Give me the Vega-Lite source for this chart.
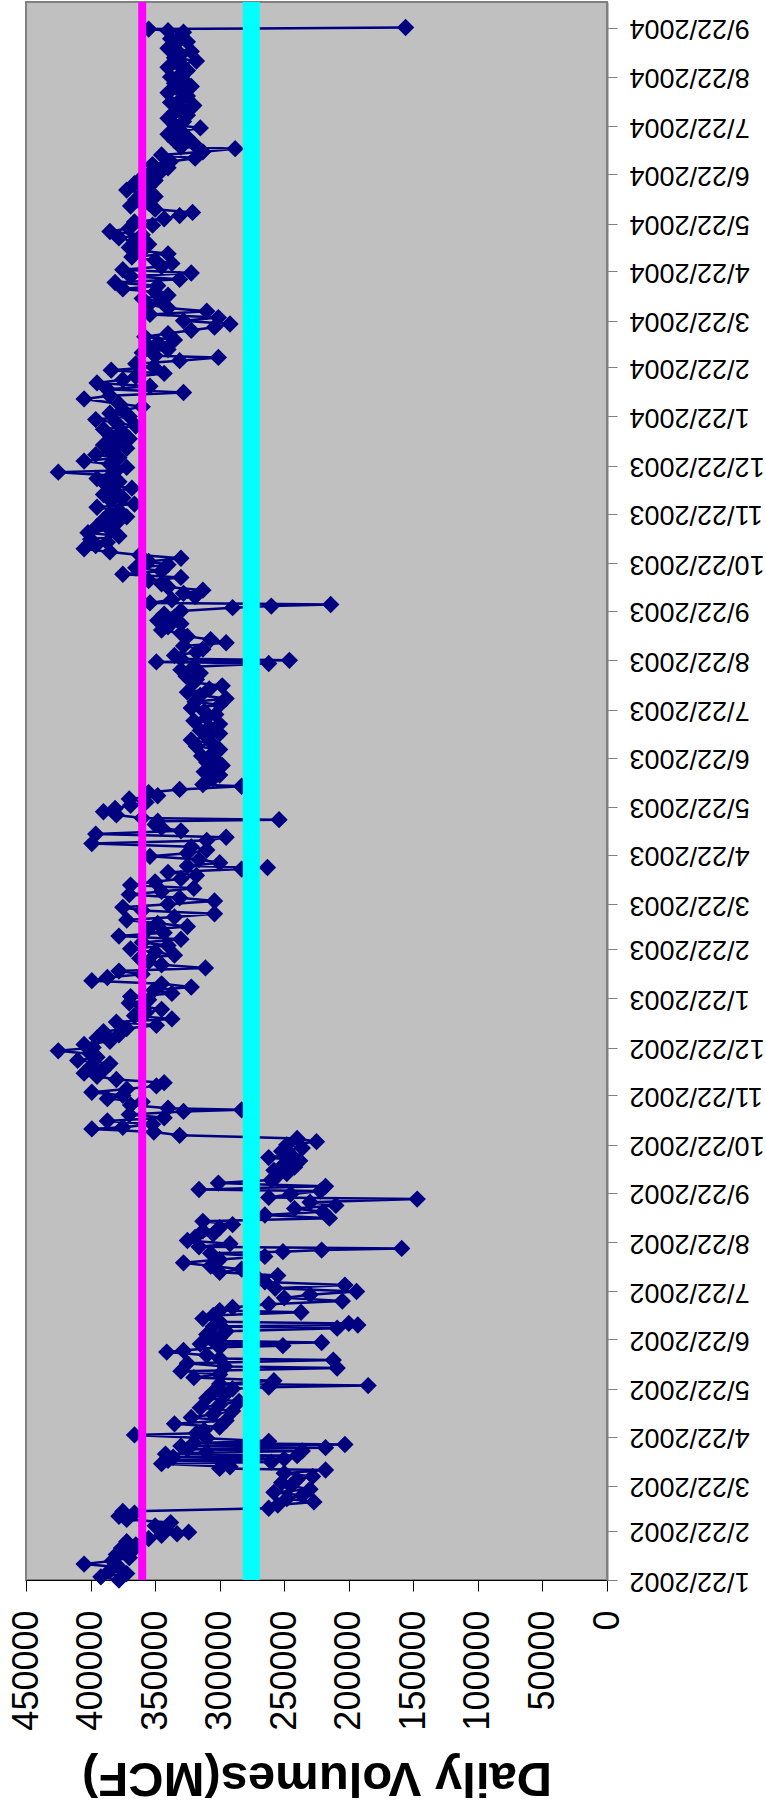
{
  "$schema": "https://vega.github.io/schema/vega-lite/v6.json",
  "width": 581,
  "height": 1578,
  "autosize": "none",
  "padding": {"left": 26, "top": 2, "right": 159, "bottom": 233},
  "background": "white",
  "config": {
    "view": {"fill": "#C0C0C0", "stroke": "#808080", "strokeWidth": 2},
    "axis": {"labelFont": "Liberation Sans", "titleFont": "Liberation Sans", "labelColor": "#000000", "titleColor": "#000000", "grid": false}
  },
  "layer": [
    {
      "data": {"values": [
        {"d":"2002-01-22","v":378000},{"d":"2002-01-24","v":392000},{"d":"2002-01-26","v":372000},{"d":"2002-01-28","v":385000},{"d":"2002-01-30","v":378000},
        {"d":"2002-02-01","v":405000},{"d":"2002-02-03","v":383000},{"d":"2002-02-05","v":370000},{"d":"2002-02-07","v":380000},{"d":"2002-02-09","v":368000},
        {"d":"2002-02-11","v":376000},{"d":"2002-02-13","v":365000},{"d":"2002-02-15","v":372000},{"d":"2002-02-17","v":355000},{"d":"2002-02-19","v":345000},
        {"d":"2002-02-20","v":333000},{"d":"2002-02-21","v":324000},{"d":"2002-02-23","v":342000},{"d":"2002-02-25","v":350000},{"d":"2002-02-27","v":338000},
        {"d":"2002-03-01","v":372000},{"d":"2002-03-03","v":378000},{"d":"2002-03-05","v":366000},{"d":"2002-03-06","v":375000},{"d":"2002-03-08","v":262000},
        {"d":"2002-03-10","v":255000},{"d":"2002-03-12","v":227000},{"d":"2002-03-14","v":248000},{"d":"2002-03-16","v":236000},{"d":"2002-03-18","v":258000},
        {"d":"2002-03-20","v":230000},{"d":"2002-03-22","v":245000},{"d":"2002-03-24","v":252000},{"d":"2002-03-26","v":240000},{"d":"2002-03-28","v":228000},
        {"d":"2002-03-30","v":250000},{"d":"2002-04-01","v":218000},{"d":"2002-04-02","v":300000},{"d":"2002-04-03","v":292000},{"d":"2002-04-05","v":345000},
        {"d":"2002-04-06","v":260000},{"d":"2002-04-07","v":340000},{"d":"2002-04-08","v":250000},{"d":"2002-04-09","v":336000},{"d":"2002-04-10","v":240000},
        {"d":"2002-04-11","v":342000},{"d":"2002-04-12","v":310000},{"d":"2002-04-13","v":236000},{"d":"2002-04-14","v":325000},{"d":"2002-04-15","v":218000},
        {"d":"2002-04-16","v":330000},{"d":"2002-04-17","v":203000},{"d":"2002-04-18","v":320000},{"d":"2002-04-19","v":262000},{"d":"2002-04-21","v":310000},
        {"d":"2002-04-23","v":366000},{"d":"2002-04-24","v":318000},{"d":"2002-04-26","v":312000},{"d":"2002-04-28","v":300000},{"d":"2002-04-30","v":335000},
        {"d":"2002-05-02","v":295000},{"d":"2002-05-04","v":322000},{"d":"2002-05-06","v":305000},{"d":"2002-05-08","v":290000},{"d":"2002-05-10","v":315000},
        {"d":"2002-05-12","v":300000},{"d":"2002-05-14","v":285000},{"d":"2002-05-16","v":310000},{"d":"2002-05-18","v":296000},{"d":"2002-05-20","v":305000},
        {"d":"2002-05-22","v":290000},{"d":"2002-05-23","v":262000},{"d":"2002-05-24","v":185000},{"d":"2002-05-25","v":300000},{"d":"2002-05-27","v":258000},
        {"d":"2002-05-29","v":320000},{"d":"2002-05-31","v":300000},{"d":"2002-06-02","v":330000},{"d":"2002-06-04","v":209000},{"d":"2002-06-05","v":296000},
        {"d":"2002-06-07","v":325000},{"d":"2002-06-09","v":212000},{"d":"2002-06-10","v":300000},{"d":"2002-06-12","v":310000},{"d":"2002-06-14","v":341000},
        {"d":"2002-06-15","v":328000},{"d":"2002-06-17","v":300000},{"d":"2002-06-18","v":251000},{"d":"2002-06-19","v":315000},{"d":"2002-06-20","v":221000},
        {"d":"2002-06-21","v":305000},{"d":"2002-06-23","v":300000},{"d":"2002-06-25","v":310000},{"d":"2002-06-27","v":295000},{"d":"2002-06-29","v":209000},
        {"d":"2002-06-30","v":305000},{"d":"2002-07-01","v":193000},{"d":"2002-07-02","v":200000},{"d":"2002-07-03","v":300000},{"d":"2002-07-05","v":313000},
        {"d":"2002-07-07","v":305000},{"d":"2002-07-09","v":237000},{"d":"2002-07-10","v":300000},{"d":"2002-07-12","v":290000},{"d":"2002-07-14","v":262000},
        {"d":"2002-07-16","v":205000},{"d":"2002-07-18","v":250000},{"d":"2002-07-20","v":230000},{"d":"2002-07-22","v":194000},{"d":"2002-07-24","v":257000},
        {"d":"2002-07-26","v":203000},{"d":"2002-07-28","v":265000},{"d":"2002-07-30","v":270000},{"d":"2002-08-01","v":255000},{"d":"2002-08-03","v":300000},
        {"d":"2002-08-05","v":283000},{"d":"2002-08-07","v":307000},{"d":"2002-08-09","v":328000},{"d":"2002-08-11","v":300000},{"d":"2002-08-13","v":265000},
        {"d":"2002-08-15","v":307000},{"d":"2002-08-16","v":251000},{"d":"2002-08-17","v":221000},{"d":"2002-08-18","v":159000},{"d":"2002-08-19","v":316000},
        {"d":"2002-08-21","v":292000},{"d":"2002-08-23","v":325000},{"d":"2002-08-25","v":319000},{"d":"2002-08-27","v":305000},{"d":"2002-08-29","v":313000},
        {"d":"2002-08-31","v":300000},{"d":"2002-09-02","v":290000},{"d":"2002-09-04","v":313000},{"d":"2002-09-06","v":215000},{"d":"2002-09-08","v":265000},
        {"d":"2002-09-10","v":220000},{"d":"2002-09-12","v":242000},{"d":"2002-09-14","v":210000},{"d":"2002-09-16","v":230000},{"d":"2002-09-18","v":147000},
        {"d":"2002-09-19","v":262000},{"d":"2002-09-21","v":245000},{"d":"2002-09-23","v":222000},{"d":"2002-09-24","v":316000},{"d":"2002-09-26","v":218000},
        {"d":"2002-09-28","v":301000},{"d":"2002-09-30","v":260000},{"d":"2002-10-02","v":256000},{"d":"2002-10-04","v":248000},{"d":"2002-10-06","v":258000},
        {"d":"2002-10-08","v":242000},{"d":"2002-10-10","v":250000},{"d":"2002-10-12","v":238000},{"d":"2002-10-14","v":262000},{"d":"2002-10-16","v":245000},
        {"d":"2002-10-18","v":252000},{"d":"2002-10-20","v":236000},{"d":"2002-10-22","v":248000},{"d":"2002-10-24","v":225000},{"d":"2002-10-26","v":240000},
        {"d":"2002-10-28","v":331000},{"d":"2002-10-30","v":351000},{"d":"2002-11-01","v":399000},{"d":"2002-11-02","v":375000},{"d":"2002-11-04","v":352000},
        {"d":"2002-11-06","v":387000},{"d":"2002-11-08","v":343000},{"d":"2002-11-10","v":370000},{"d":"2002-11-12","v":328000},{"d":"2002-11-13","v":283000},
        {"d":"2002-11-14","v":340000},{"d":"2002-11-16","v":369000},{"d":"2002-11-18","v":360000},{"d":"2002-11-20","v":387000},{"d":"2002-11-22","v":375000},
        {"d":"2002-11-24","v":399000},{"d":"2002-11-26","v":372000},{"d":"2002-11-28","v":349000},{"d":"2002-11-30","v":343000},{"d":"2002-12-02","v":380000},
        {"d":"2002-12-04","v":395000},{"d":"2002-12-06","v":405000},{"d":"2002-12-08","v":390000},{"d":"2002-12-10","v":400000},{"d":"2002-12-12","v":385000},
        {"d":"2002-12-14","v":410000},{"d":"2002-12-16","v":395000},{"d":"2002-12-18","v":400000},{"d":"2002-12-20","v":425000},{"d":"2002-12-22","v":398000},
        {"d":"2002-12-24","v":405000},{"d":"2002-12-26","v":385000},{"d":"2002-12-28","v":395000},{"d":"2002-12-30","v":378000},
        {"d":"2003-01-01","v":390000},{"d":"2003-01-03","v":372000},{"d":"2003-01-05","v":349000},{"d":"2003-01-07","v":380000},{"d":"2003-01-09","v":337000},
        {"d":"2003-01-11","v":366000},{"d":"2003-01-13","v":357000},{"d":"2003-01-15","v":345000},{"d":"2003-01-17","v":360000},{"d":"2003-01-19","v":370000},
        {"d":"2003-01-21","v":355000},{"d":"2003-01-23","v":369000},{"d":"2003-01-25","v":337000},{"d":"2003-01-27","v":351000},{"d":"2003-01-29","v":322000},
        {"d":"2003-01-31","v":345000},{"d":"2003-02-02","v":399000},{"d":"2003-02-04","v":387000},{"d":"2003-02-06","v":360000},{"d":"2003-02-08","v":378000},
        {"d":"2003-02-10","v":311000},{"d":"2003-02-12","v":345000},{"d":"2003-02-14","v":355000},{"d":"2003-02-16","v":362000},{"d":"2003-02-18","v":335000},
        {"d":"2003-02-20","v":350000},{"d":"2003-02-22","v":369000},{"d":"2003-02-24","v":340000},{"d":"2003-02-26","v":360000},{"d":"2003-02-28","v":330000},
        {"d":"2003-03-02","v":378000},{"d":"2003-03-04","v":343000},{"d":"2003-03-06","v":356000},{"d":"2003-03-08","v":325000},{"d":"2003-03-10","v":348000},
        {"d":"2003-03-12","v":372000},{"d":"2003-03-14","v":335000},{"d":"2003-03-16","v":304000},{"d":"2003-03-18","v":360000},{"d":"2003-03-20","v":375000},
        {"d":"2003-03-22","v":340000},{"d":"2003-03-24","v":304000},{"d":"2003-03-26","v":331000},{"d":"2003-03-28","v":370000},{"d":"2003-03-30","v":345000},
        {"d":"2003-04-01","v":320000},{"d":"2003-04-03","v":369000},{"d":"2003-04-05","v":350000},{"d":"2003-04-07","v":330000},{"d":"2003-04-09","v":318000},
        {"d":"2003-04-11","v":340000},{"d":"2003-04-13","v":283000},{"d":"2003-04-14","v":263000},{"d":"2003-04-15","v":325000},{"d":"2003-04-17","v":300000},
        {"d":"2003-04-19","v":316000},{"d":"2003-04-21","v":354000},{"d":"2003-04-23","v":325000},{"d":"2003-04-25","v":310000},{"d":"2003-04-27","v":322000},
        {"d":"2003-04-29","v":399000},{"d":"2003-05-01","v":310000},{"d":"2003-05-03","v":295000},{"d":"2003-05-05","v":396000},{"d":"2003-05-07","v":330000},
        {"d":"2003-05-09","v":345000},{"d":"2003-05-11","v":350000},{"d":"2003-05-13","v":348000},{"d":"2003-05-14","v":254000},{"d":"2003-05-15","v":360000},
        {"d":"2003-05-17","v":380000},{"d":"2003-05-19","v":390000},{"d":"2003-05-21","v":381000},{"d":"2003-05-23","v":369000},{"d":"2003-05-25","v":357000},
        {"d":"2003-05-27","v":370000},{"d":"2003-05-29","v":348000},{"d":"2003-05-31","v":355000},{"d":"2003-06-02","v":331000},{"d":"2003-06-04","v":283000},
        {"d":"2003-06-05","v":313000},{"d":"2003-06-07","v":310000},{"d":"2003-06-09","v":305000},{"d":"2003-06-11","v":300000},{"d":"2003-06-13","v":312000},
        {"d":"2003-06-15","v":305000},{"d":"2003-06-17","v":298000},{"d":"2003-06-19","v":310000},{"d":"2003-06-21","v":304000},{"d":"2003-06-23","v":314000},
        {"d":"2003-06-25","v":305000},{"d":"2003-06-27","v":300000},{"d":"2003-06-29","v":318000},{"d":"2003-07-01","v":306000},{"d":"2003-07-03","v":322000},
        {"d":"2003-07-05","v":310000},{"d":"2003-07-07","v":300000},{"d":"2003-07-09","v":315000},{"d":"2003-07-11","v":308000},{"d":"2003-07-13","v":300000},
        {"d":"2003-07-15","v":320000},{"d":"2003-07-17","v":310000},{"d":"2003-07-19","v":303000},{"d":"2003-07-21","v":312000},{"d":"2003-07-23","v":322000},
        {"d":"2003-07-25","v":300000},{"d":"2003-07-27","v":319000},{"d":"2003-07-29","v":295000},{"d":"2003-07-31","v":315000},{"d":"2003-08-02","v":325000},
        {"d":"2003-08-04","v":308000},{"d":"2003-08-06","v":298000},{"d":"2003-08-08","v":320000},{"d":"2003-08-10","v":318000},{"d":"2003-08-12","v":326000},
        {"d":"2003-08-14","v":315000},{"d":"2003-08-16","v":330000},{"d":"2003-08-18","v":320000},{"d":"2003-08-20","v":262000},{"d":"2003-08-21","v":349000},
        {"d":"2003-08-22","v":246000},{"d":"2003-08-23","v":330000},{"d":"2003-08-25","v":335000},{"d":"2003-08-27","v":318000},{"d":"2003-08-29","v":313000},
        {"d":"2003-08-31","v":328000},{"d":"2003-09-02","v":295000},{"d":"2003-09-04","v":307000},{"d":"2003-09-06","v":325000},{"d":"2003-09-08","v":330000},
        {"d":"2003-09-10","v":345000},{"d":"2003-09-12","v":340000},{"d":"2003-09-14","v":330000},{"d":"2003-09-16","v":348000},{"d":"2003-09-18","v":335000},
        {"d":"2003-09-20","v":343000},{"d":"2003-09-22","v":330000},{"d":"2003-09-24","v":290000},{"d":"2003-09-25","v":260000},{"d":"2003-09-26","v":214000},
        {"d":"2003-09-27","v":354000},{"d":"2003-09-29","v":337000},{"d":"2003-10-01","v":319000},{"d":"2003-10-03","v":328000},{"d":"2003-10-05","v":313000},
        {"d":"2003-10-07","v":340000},{"d":"2003-10-09","v":345000},{"d":"2003-10-11","v":355000},{"d":"2003-10-13","v":330000},{"d":"2003-10-15","v":375000},
        {"d":"2003-10-17","v":345000},{"d":"2003-10-19","v":365000},{"d":"2003-10-21","v":340000},{"d":"2003-10-23","v":355000},{"d":"2003-10-25","v":330000},
        {"d":"2003-10-27","v":362000},{"d":"2003-10-29","v":385000},{"d":"2003-10-31","v":405000},{"d":"2003-11-02","v":396000},{"d":"2003-11-04","v":387000},
        {"d":"2003-11-06","v":400000},{"d":"2003-11-08","v":378000},{"d":"2003-11-10","v":402000},{"d":"2003-11-12","v":385000},{"d":"2003-11-14","v":395000},
        {"d":"2003-11-16","v":380000},{"d":"2003-11-18","v":390000},{"d":"2003-11-20","v":372000},{"d":"2003-11-22","v":385000},{"d":"2003-11-24","v":378000},
        {"d":"2003-11-26","v":395000},{"d":"2003-11-28","v":366000},{"d":"2003-11-30","v":384000},{"d":"2003-12-02","v":375000},{"d":"2003-12-04","v":390000},
        {"d":"2003-12-06","v":381000},{"d":"2003-12-08","v":368000},{"d":"2003-12-10","v":388000},{"d":"2003-12-12","v":378000},{"d":"2003-12-14","v":395000},
        {"d":"2003-12-16","v":384000},{"d":"2003-12-18","v":425000},{"d":"2003-12-19","v":380000},{"d":"2003-12-21","v":372000},{"d":"2003-12-23","v":385000},
        {"d":"2003-12-25","v":405000},{"d":"2003-12-27","v":378000},{"d":"2003-12-29","v":396000},{"d":"2003-12-31","v":385000},
        {"d":"2004-01-02","v":372000},{"d":"2004-01-04","v":390000},{"d":"2004-01-06","v":380000},{"d":"2004-01-08","v":370000},{"d":"2004-01-10","v":385000},
        {"d":"2004-01-12","v":375000},{"d":"2004-01-14","v":390000},{"d":"2004-01-16","v":365000},{"d":"2004-01-18","v":380000},{"d":"2004-01-20","v":396000},
        {"d":"2004-01-22","v":370000},{"d":"2004-01-24","v":385000},{"d":"2004-01-26","v":375000},{"d":"2004-01-28","v":360000},{"d":"2004-01-30","v":378000},
        {"d":"2004-02-02","v":405000},{"d":"2004-02-04","v":385000},{"d":"2004-02-06","v":328000},{"d":"2004-02-08","v":387000},{"d":"2004-02-10","v":354000},
        {"d":"2004-02-12","v":395000},{"d":"2004-02-14","v":375000},{"d":"2004-02-16","v":365000},{"d":"2004-02-18","v":343000},{"d":"2004-02-20","v":384000},
        {"d":"2004-02-22","v":351000},{"d":"2004-02-24","v":365000},{"d":"2004-02-26","v":331000},{"d":"2004-02-28","v":301000},{"d":"2004-02-29","v":350000},
        {"d":"2004-03-02","v":360000},{"d":"2004-03-04","v":340000},{"d":"2004-03-06","v":355000},{"d":"2004-03-08","v":348000},{"d":"2004-03-10","v":335000},
        {"d":"2004-03-12","v":358000},{"d":"2004-03-14","v":340000},{"d":"2004-03-16","v":322000},{"d":"2004-03-18","v":304000},{"d":"2004-03-20","v":292000},
        {"d":"2004-03-22","v":328000},{"d":"2004-03-24","v":301000},{"d":"2004-03-26","v":354000},{"d":"2004-03-28","v":310000},{"d":"2004-03-30","v":340000},
        {"d":"2004-04-01","v":355000},{"d":"2004-04-03","v":345000},{"d":"2004-04-05","v":360000},{"d":"2004-04-07","v":340000},{"d":"2004-04-09","v":350000},
        {"d":"2004-04-11","v":375000},{"d":"2004-04-13","v":348000},{"d":"2004-04-15","v":381000},{"d":"2004-04-17","v":331000},{"d":"2004-04-19","v":369000},
        {"d":"2004-04-21","v":322000},{"d":"2004-04-23","v":375000},{"d":"2004-04-25","v":345000},{"d":"2004-04-27","v":337000},{"d":"2004-04-29","v":350000},
        {"d":"2004-05-01","v":368000},{"d":"2004-05-03","v":340000},{"d":"2004-05-05","v":360000},{"d":"2004-05-07","v":370000},{"d":"2004-05-09","v":355000},
        {"d":"2004-05-11","v":366000},{"d":"2004-05-13","v":378000},{"d":"2004-05-15","v":360000},{"d":"2004-05-17","v":385000},{"d":"2004-05-19","v":370000},
        {"d":"2004-05-21","v":352000},{"d":"2004-05-23","v":366000},{"d":"2004-05-25","v":343000},{"d":"2004-05-27","v":331000},{"d":"2004-05-29","v":321000},
        {"d":"2004-05-31","v":350000},{"d":"2004-06-02","v":369000},{"d":"2004-06-04","v":355000},{"d":"2004-06-06","v":365000},{"d":"2004-06-08","v":350000},
        {"d":"2004-06-10","v":360000},{"d":"2004-06-12","v":372000},{"d":"2004-06-14","v":355000},{"d":"2004-06-16","v":366000},{"d":"2004-06-18","v":350000},
        {"d":"2004-06-20","v":360000},{"d":"2004-06-22","v":355000},{"d":"2004-06-24","v":345000},{"d":"2004-06-26","v":340000},{"d":"2004-06-28","v":352000},
        {"d":"2004-06-30","v":338000},{"d":"2004-07-02","v":319000},{"d":"2004-07-04","v":345000},{"d":"2004-07-06","v":313000},{"d":"2004-07-08","v":288000},
        {"d":"2004-07-09","v":330000},{"d":"2004-07-11","v":320000},{"d":"2004-07-13","v":335000},{"d":"2004-07-15","v":325000},{"d":"2004-07-17","v":340000},
        {"d":"2004-07-19","v":330000},{"d":"2004-07-21","v":315000},{"d":"2004-07-23","v":335000},{"d":"2004-07-25","v":328000},{"d":"2004-07-27","v":340000},
        {"d":"2004-07-29","v":325000},{"d":"2004-07-31","v":335000},{"d":"2004-08-02","v":330000},{"d":"2004-08-04","v":320000},{"d":"2004-08-06","v":338000},
        {"d":"2004-08-08","v":330000},{"d":"2004-08-10","v":325000},{"d":"2004-08-12","v":340000},{"d":"2004-08-14","v":330000},{"d":"2004-08-16","v":322000},
        {"d":"2004-08-18","v":335000},{"d":"2004-08-20","v":328000},{"d":"2004-08-22","v":338000},{"d":"2004-08-24","v":330000},{"d":"2004-08-26","v":325000},
        {"d":"2004-08-28","v":340000},{"d":"2004-08-30","v":330000},{"d":"2004-09-01","v":318000},{"d":"2004-09-03","v":335000},{"d":"2004-09-05","v":330000},
        {"d":"2004-09-07","v":322000},{"d":"2004-09-09","v":340000},{"d":"2004-09-11","v":335000},{"d":"2004-09-13","v":325000},{"d":"2004-09-15","v":338000},
        {"d":"2004-09-17","v":330000},{"d":"2004-09-19","v":328000},{"d":"2004-09-20","v":340000},{"d":"2004-09-21","v":355000},{"d":"2004-09-22","v":156000}
      ]},
      "mark": {"type": "line", "color": "#000080", "strokeWidth": 2.5, "point": {"shape": "diamond", "size": 300, "filled": true, "color": "#000080", "opacity": 1}},
      "encoding": {
        "x": {
          "field": "v", "type": "quantitative",
          "scale": {"domain": [0, 450000], "reverse": true, "nice": false, "zero": false},
          "axis": {
            "title": "Daily Volumes(MCF)",
            "values": [0, 50000, 100000, 150000, 200000, 250000, 300000, 350000, 400000, 450000],
            "format": "d",
            "labelAngle": 270, "labelAlign": "right", "labelBaseline": "middle",
            "labelFontSize": 36, "labelPadding": 19, "labelFlush": false, "labelOverlap": false,
            "tickSize": 11, "tickColor": "#000000", "domainColor": "#000000", "domainWidth": 1,
            "titleFontSize": 49, "titleFontWeight": "bold", "titleAngle": 180, "titleBaseline": "alphabetic", "titlePadding": 32
          }
        },
        "y": {
          "field": "d", "type": "temporal",
          "scale": {"domain": [{"year": 2002, "month": 1, "date": 22, "utc": true}, {"year": 2004, "month": 10, "date": 8, "utc": true}], "nice": false},
          "axis": {
            "title": null, "orient": "right",
            "values": [
              {"year":2002,"month":1,"date":22,"utc":true},{"year":2002,"month":2,"date":22,"utc":true},{"year":2002,"month":3,"date":22,"utc":true},
              {"year":2002,"month":4,"date":22,"utc":true},{"year":2002,"month":5,"date":22,"utc":true},{"year":2002,"month":6,"date":22,"utc":true},
              {"year":2002,"month":7,"date":22,"utc":true},{"year":2002,"month":8,"date":22,"utc":true},{"year":2002,"month":9,"date":22,"utc":true},
              {"year":2002,"month":10,"date":22,"utc":true},{"year":2002,"month":11,"date":22,"utc":true},{"year":2002,"month":12,"date":22,"utc":true},
              {"year":2003,"month":1,"date":22,"utc":true},{"year":2003,"month":2,"date":22,"utc":true},{"year":2003,"month":3,"date":22,"utc":true},
              {"year":2003,"month":4,"date":22,"utc":true},{"year":2003,"month":5,"date":22,"utc":true},{"year":2003,"month":6,"date":22,"utc":true},
              {"year":2003,"month":7,"date":22,"utc":true},{"year":2003,"month":8,"date":22,"utc":true},{"year":2003,"month":9,"date":22,"utc":true},
              {"year":2003,"month":10,"date":22,"utc":true},{"year":2003,"month":11,"date":22,"utc":true},{"year":2003,"month":12,"date":22,"utc":true},
              {"year":2004,"month":1,"date":22,"utc":true},{"year":2004,"month":2,"date":22,"utc":true},{"year":2004,"month":3,"date":22,"utc":true},
              {"year":2004,"month":4,"date":22,"utc":true},{"year":2004,"month":5,"date":22,"utc":true},{"year":2004,"month":6,"date":22,"utc":true},
              {"year":2004,"month":7,"date":22,"utc":true},{"year":2004,"month":8,"date":22,"utc":true},{"year":2004,"month":9,"date":22,"utc":true}
            ],
            "labelExpr": "utcFormat(datum.value, '%-m/%-d/%Y')",
            "labelAngle": 180, "labelAlign": "right", "labelBaseline": "middle",
            "labelFontSize": 27, "labelPadding": 12, "labelFlush": false, "labelOverlap": false,
            "tickSize": 10, "tickColor": "#808080", "domainColor": "#808080", "domainWidth": 2
          }
        },
        "order": {"field": "d", "type": "temporal"}
      }
    },
    {
      "data": {"values": [{"v": 360000}]},
      "mark": {"type": "rule", "color": "#FF00FF", "strokeWidth": 8},
      "encoding": {"x": {"field": "v", "type": "quantitative", "title": "Daily Volumes(MCF)"}}
    },
    {
      "data": {"values": [{"v": 275500}]},
      "mark": {"type": "rule", "color": "#00FFFF", "strokeWidth": 17},
      "encoding": {"x": {"field": "v", "type": "quantitative", "title": "Daily Volumes(MCF)"}}
    }
  ]
}
